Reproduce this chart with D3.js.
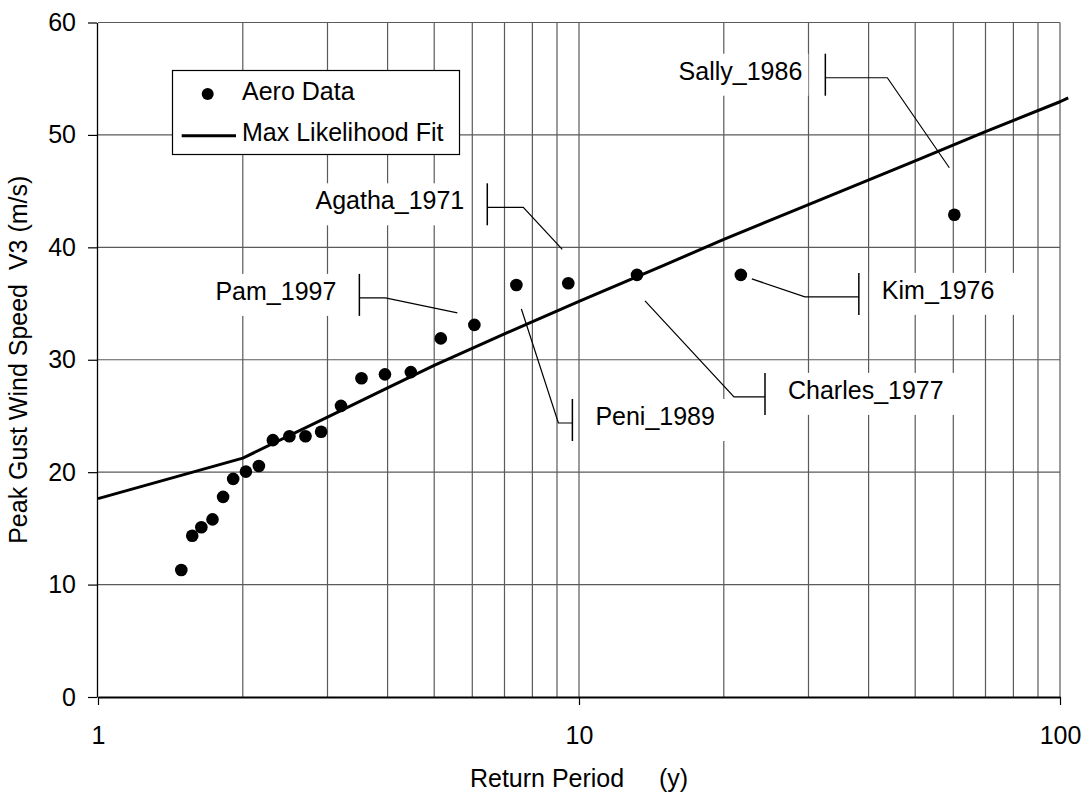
<!DOCTYPE html>
<html>
<head>
<meta charset="utf-8">
<script src="https://cdn.jsdelivr.net/npm/d3@7"></script>
<style>
  html, body { margin: 0; padding: 0; background: #fff; }
  svg { display: block; font-family: "Liberation Sans", Arial, sans-serif; }
</style>
</head>
<body>
<script>
// Observed annual peak gusts, plotted at their empirical return periods
const returnPeriods = [1.49, 1.57, 1.64, 1.73, 1.82, 1.91, 2.03, 2.16, 2.31, 2.50, 2.70, 2.91,
                       3.20, 3.53, 3.95, 4.47, 5.16, 6.06, 7.41, 9.50, 13.2, 21.7, 60.3];
const gustSpeeds    = [11.3, 14.35, 15.1, 15.8, 17.8, 19.4, 20.05, 20.55, 22.85, 23.2, 23.2, 23.6,
                       25.9, 28.35, 28.7, 28.9, 31.9, 33.1, 36.65, 36.8, 37.55, 37.55, 42.9];

// Maximum likelihood fit curve
const fitPeriods = [1, 2, 3, 4, 5, 7, 10, 15, 20, 30, 50, 70, 100, 104];
const fitSpeeds  = [17.65, 21.25, 24.9, 27.5, 29.5, 32.3, 35.2, 38.4, 40.7, 43.8, 47.7, 50.3, 52.95, 53.3];

// Named storms and the observation each one refers to
const stormNames = ["Pam_1997", "Peni_1989", "Agatha_1971", "Charles_1977", "Kim_1976", "Sally_1986"];
const stormIndex = [17, 18, 19, 20, 21, 22];

const xTickValues = [1, 10, 100];
const yTickValues = [0, 10, 20, 30, 40, 50, 60];

// Callout geometry: leader path offsets (px) from the marker, last vertex carries the bar
const calloutLayout = {
  "Pam_1997":     { side: "left",  path: [[-17, -12], [-89, -27], [-115, -27]] },
  "Peni_1989":    { side: "right", path: [[5, 24], [42, 138], [56, 138]] },
  "Agatha_1971":  { side: "left",  path: [[-6, -34], [-45, -76], [-81, -76]] },
  "Charles_1977": { side: "right", path: [[8, 26], [97, 122], [128, 122]] },
  "Kim_1976":     { side: "right", path: [[11, 4], [64, 22], [118, 22]] },
  "Sally_1986":   { side: "left",  path: [[-5, -47], [-67, -137], [-129, -137]] }
};

const W = 1092, H = 796;
const plot = { left: 98, right: 1060, top: 22.5, bottom: 697 };
const FONT = 25;
const gridColor = "#5a5a5a";

const svg = d3.select("body").append("svg").attr("width", W).attr("height", H);

const x = d3.scaleLog().domain([1, 100]).range([plot.left, plot.right]);
const y = d3.scaleLinear().domain([0, 60]).range([plot.bottom, plot.top]);

// Grid
const gridG = svg.append("g");
gridG.selectAll("line.v")
  .data(x.ticks().filter(d => d > 1))
  .join("line")
  .attr("x1", d => x(d)).attr("x2", d => x(d))
  .attr("y1", plot.top).attr("y2", plot.bottom)
  .attr("stroke", gridColor).attr("stroke-width", 1.2);
gridG.selectAll("line.h")
  .data(yTickValues.filter(d => d > 0))
  .join("line")
  .attr("x1", plot.left).attr("x2", plot.right)
  .attr("y1", d => y(d)).attr("y2", d => y(d))
  .attr("stroke", gridColor).attr("stroke-width", 1.2);

// Callouts: white label boxes, leader lines and bars
const calloutG = svg.append("g");
const leaderG = svg.append("g");
stormNames.forEach((name, i) => {
  const k = stormIndex[i];
  const px = x(returnPeriods[k]), py = y(gustSpeeds[k]);
  const lay = calloutLayout[name];
  const pts = lay.path.map(([dx, dy]) => [px + dx, py + dy]);
  const [bx, by] = pts[pts.length - 1];

  const boxG = calloutG.append("g");
  const rect = boxG.append("rect").attr("fill", "#fff");
  const txt = boxG.append("text")
    .attr("y", by + 2)
    .attr("font-size", FONT)
    .attr("fill", "#000")
    .text(name);
  if (lay.side === "left") {
    txt.attr("x", bx - 23).attr("text-anchor", "end");
  } else {
    txt.attr("x", bx + 23).attr("text-anchor", "start");
  }
  const bb = txt.node().getBBox();
  let rx0, rx1;
  if (lay.side === "left") { rx0 = bb.x - 12; rx1 = bx - 17; }
  else { rx0 = bx + 11; rx1 = bb.x + bb.width + 20; }
  rect.attr("x", rx0).attr("y", by - 24).attr("width", rx1 - rx0).attr("height", 42);

  leaderG.append("path")
    .attr("d", d3.line()(pts))
    .attr("fill", "none").attr("stroke", "#000").attr("stroke-width", 1.2);
  leaderG.append("line")
    .attr("x1", bx).attr("x2", bx)
    .attr("y1", by - 24).attr("y2", by + 18)
    .attr("stroke", "#000").attr("stroke-width", 1.5);
});

// Fit curve
const fitData = fitPeriods.map((t, i) => [t, fitSpeeds[i]]);
svg.append("path")
  .datum(fitData)
  .attr("d", d3.line().x(d => x(d[0])).y(d => y(d[1])))
  .attr("fill", "none").attr("stroke", "#000").attr("stroke-width", 3)
  .attr("stroke-linejoin", "round");

// Observations
svg.append("g").selectAll("circle")
  .data(returnPeriods.map((t, i) => [t, gustSpeeds[i]]))
  .join("circle")
  .attr("cx", d => x(d[0])).attr("cy", d => y(d[1]))
  .attr("r", 6.3).attr("fill", "#000");

// Axes
const xAxis = d3.axisBottom(x)
  .tickValues(xTickValues)
  .tickFormat(d3.format("d"))
  .tickSize(8).tickSizeOuter(0).tickPadding(21);
const gx = svg.append("g").attr("transform", `translate(0,${plot.bottom})`).call(xAxis);
gx.select(".domain").attr("stroke", "#000").attr("stroke-width", 2.2);
gx.selectAll(".tick line").attr("stroke", "#000").attr("stroke-width", 1.2);
gx.selectAll(".tick text").attr("font-size", FONT).attr("font-family", "Liberation Sans, Arial, sans-serif").attr("fill", "#000");

const yAxis = d3.axisLeft(y)
  .tickValues(yTickValues)
  .tickSize(9).tickSizeOuter(0).tickPadding(12);
const gy = svg.append("g").attr("transform", `translate(${plot.left - 1},0)`).call(yAxis);
gy.select(".domain").attr("stroke", "#000").attr("stroke-width", 1.3);
gy.selectAll(".tick line").attr("stroke", "#000").attr("stroke-width", 1.2);
gy.selectAll(".tick text").attr("font-size", FONT).attr("font-family", "Liberation Sans, Arial, sans-serif").attr("fill", "#000");

// Axis titles
svg.append("text")
  .attr("x", (plot.left + plot.right) / 2).attr("y", 787)
  .attr("text-anchor", "middle").attr("font-size", FONT)
  .style("white-space", "pre")
  .text("Return Period     (y)");
svg.append("text")
  .attr("transform", `translate(27,${(plot.top + plot.bottom) / 2}) rotate(-90)`)
  .attr("text-anchor", "middle").attr("font-size", FONT)
  .style("white-space", "pre")
  .text("Peak Gust Wind Speed  V3 (m/s)");

// Legend
const lg = svg.append("g");
lg.append("rect").attr("x", 172.5).attr("y", 70.5).attr("width", 287).attr("height", 84)
  .attr("fill", "#fff").attr("stroke", "#000").attr("stroke-width", 1.2);
lg.append("circle").attr("cx", 207.7).attr("cy", 94).attr("r", 6).attr("fill", "#000");
lg.append("text").attr("x", 242).attr("y", 99.5).attr("font-size", FONT).text("Aero Data");
lg.append("line").attr("x1", 181.7).attr("x2", 236).attr("y1", 135.7).attr("y2", 135.7)
  .attr("stroke", "#000").attr("stroke-width", 3);
lg.append("text").attr("x", 242).attr("y", 140.7).attr("font-size", FONT).text("Max Likelihood Fit");
</script>
</body>
</html>
